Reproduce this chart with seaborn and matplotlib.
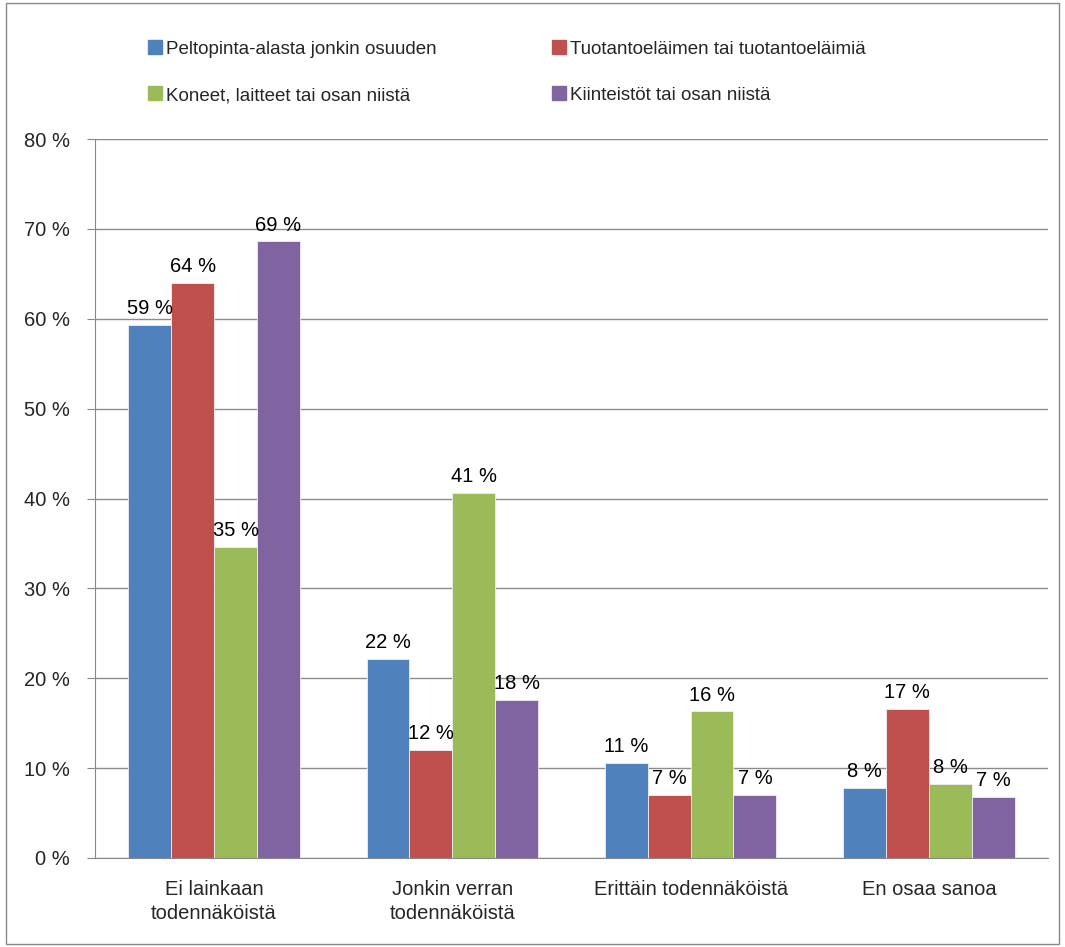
import numpy as np
import pandas as pd
import seaborn as sns
import matplotlib.pyplot as plt
from matplotlib.patches import Rectangle
from matplotlib.lines import Line2D

categories = ['Ei lainkaan\ntodennäköistä', 'Jonkin verran\ntodennäköistä',
              'Erittäin todennäköistä', 'En osaa sanoa']
series = ['Peltopinta-alasta jonkin osuuden', 'Tuotantoeläimen tai tuotantoeläimiä',
          'Koneet, laitteet tai osan niistä', 'Kiinteistöt tai osan niistä']
pelto = [59.3, 22.1, 10.6, 7.8]
tuotanto = [64.0, 12.0, 7.0, 16.6]
koneet = [34.6, 40.6, 16.3, 8.2]
kiinteistot = [68.6, 17.6, 7.0, 6.8]
colors = ['#4F81BD', '#C0504D', '#9BBB59', '#8064A2']

df = pd.DataFrame({
    'cat': categories * 4,
    'series': np.repeat(series, 4),
    'val': pelto + tuotanto + koneet + kiinteistot,
})

sns.set_style('white')
plt.rcParams['font.family'] = ['Liberation Sans', 'DejaVu Sans']
fs = 14.5

fig = plt.figure(figsize=(10.65, 9.47), dpi=100)
ax = fig.add_axes([0.0892, 0.094, 0.8948, 0.7592])

sns.barplot(data=df, x='cat', y='val', hue='series', palette=colors, saturation=1,
            width=0.72, ax=ax, legend=False, edgecolor='#f0f0f0', linewidth=0.6)

for cont in ax.containers:
    vals = [b.get_height() for b in cont]
    ax.bar_label(cont, labels=[f'{int(v + 0.5)} %' for v in vals],
                 padding=5, fontsize=fs, color='black')

ax.set_ylim(0, 80)
ax.set_yticks(range(0, 81, 10))
ax.set_yticklabels([f'{t} %' for t in range(0, 81, 10)], fontsize=fs)
ax.set_xlim(-0.5, 3.5)
ax.tick_params(axis='x', which='major', length=0, labelsize=fs, pad=16)
ax.set_xticks([0.5, 1.5, 2.5, 3.5], minor=True)
ax.tick_params(axis='x', which='minor', length=6, color='#888888', direction='out')
ax.tick_params(axis='y', length=6, color='#888888', direction='out', left=True, pad=12)
for lbl in ax.get_xticklabels():
    lbl.set_linespacing(1.35)
ax.set_xlabel('')
ax.set_ylabel('')
ax.yaxis.grid(True, color='#8c8c8c', linewidth=1)
ax.set_axisbelow(True)
for s in ['top', 'right']:
    ax.spines[s].set_visible(False)
for s in ['left', 'bottom']:
    ax.spines[s].set_color('#888888')

handles = [Line2D([], [], marker='s', linestyle='', markersize=10,
                  markerfacecolor=c, markeredgecolor=c) for c in colors]
order = [0, 2, 1, 3]
fig.legend([handles[i] for i in order], [series[i] for i in order],
           ncol=2, loc='upper left', bbox_to_anchor=(0.121, 0.975),
           frameon=False, fontsize=13.5, handletextpad=0.1, columnspacing=6.0,
           labelspacing=1.56, handlelength=1.0)

fig.patches.append(Rectangle((0.006, 0.003), 0.988, 0.994, transform=fig.transFigure,
                             fill=False, edgecolor='#888888', linewidth=1))

plt.savefig('out.png', dpi=100)
plt.close()
